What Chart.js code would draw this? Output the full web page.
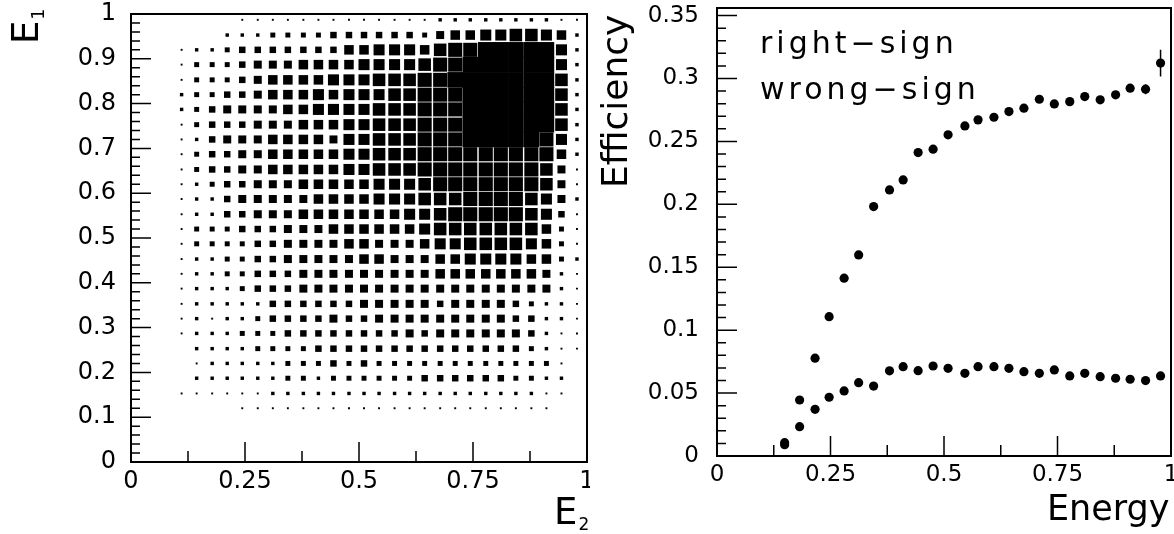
<!DOCTYPE html>
<html>
<head>
<meta charset="utf-8">
<script src="https://cdn.jsdelivr.net/npm/chart.js@4.4.0/dist/chart.umd.min.js"></script>
<style>
  html, body { margin: 0; padding: 0; background: #fff; }
  #wrap { position: relative; width: 1174px; height: 534px; overflow: hidden; }
  canvas { position: absolute; top: 0; }
  #left { left: 0; }
  #right { left: 590px; }
</style>
</head>
<body>
<div id="wrap">
  <canvas id="left" width="590" height="534"></canvas>
  <canvas id="right" width="584" height="534"></canvas>
</div>
<script>
// ---- left panel: E1 vs E2 box histogram ----
const xTicks = [0, 0.25, 0.5, 0.75, 1];
const xLabels = ['0', '0.25', '0.5', '0.75', '1'];
const e1Ticks = [0, 0.1, 0.2, 0.3, 0.4, 0.5, 0.6, 0.7, 0.8, 0.9, 1];
const e1Labels = ['0', '0.1', '0.2', '0.3', '0.4', '0.5', '0.6', '0.7', '0.8', '0.9', '1'];

// bin centres
const e2Centers = [0.111, 0.144, 0.178, 0.211, 0.244, 0.278, 0.311, 0.344, 0.378, 0.411, 0.444, 0.478, 0.511, 0.544,
                   0.578, 0.611, 0.644, 0.678, 0.711, 0.744, 0.778, 0.811, 0.844, 0.878, 0.911, 0.944, 0.978];
const e1Centers = [0.120, 0.153, 0.187, 0.220, 0.253, 0.287, 0.320, 0.353, 0.387, 0.420, 0.453, 0.487, 0.520, 0.553,
                   0.587, 0.620, 0.653, 0.687, 0.720, 0.753, 0.787, 0.820, 0.853, 0.887, 0.920, 0.953, 0.987];

// box size per cell, 0..10 (10 = full cell); first row is the lowest E1 bin
const boxLevels = [
  [0,0,0,0,1,1,1,1,1,1,1,1,1,1,1,1,1,1,1,1,1,1,1,1,1,0,0],
  [1,1,1,1,1,1,2,2,2,2,2,2,2,2,2,2,2,2,2,2,2,2,2,2,1,1,0],
  [0,2,2,2,2,2,2,3,3,2,3,3,3,3,3,3,4,4,4,4,4,4,3,3,2,2,0],
  [0,1,2,2,2,2,2,3,3,3,4,3,4,3,3,3,3,3,3,3,3,3,3,3,3,1,0],
  [0,2,2,2,2,3,3,3,3,4,4,4,4,4,4,4,4,4,4,4,4,4,4,3,2,1,1],
  [1,2,2,2,3,3,3,4,4,4,4,4,4,4,4,5,4,5,5,5,5,5,5,4,2,1,1],
  [1,2,1,2,2,3,4,4,4,4,5,4,4,5,5,5,5,5,5,5,5,5,4,4,2,2,1],
  [1,2,2,2,2,2,4,4,4,4,4,4,5,5,5,5,5,4,5,5,5,5,4,3,2,2,1],
  [1,2,2,2,3,4,4,4,5,5,5,5,5,5,5,5,5,5,5,5,5,5,5,5,5,2,1],
  [1,2,2,3,3,4,4,4,5,5,5,5,5,5,5,5,5,6,6,6,6,6,6,6,5,2,1],
  [1,2,2,3,3,4,4,5,5,5,5,5,6,6,5,5,5,6,6,7,7,7,7,6,6,3,2],
  [1,3,3,3,3,4,4,5,5,5,5,6,6,5,5,5,6,7,7,8,8,8,8,7,6,3,1],
  [1,3,3,3,4,4,4,5,5,5,6,6,6,6,6,6,7,8,8,8,8,8,8,8,6,3,1],
  [1,2,2,4,4,5,5,5,6,6,6,6,6,6,6,7,7,8,9,9,9,9,9,8,7,4,1],
  [1,2,2,4,5,5,5,5,5,6,6,6,6,7,7,7,8,8,8,9,9,9,9,8,7,5,2],
  [1,2,3,4,4,5,5,5,6,6,6,6,6,7,7,7,8,9,9,9,9,9,9,9,8,5,1],
  [1,3,4,4,5,5,6,6,6,6,6,7,7,8,8,8,9,9,9,9,9,9,9,9,8,5,1],
  [1,3,4,4,5,5,6,6,6,6,6,7,7,8,8,8,9,9,9,9,9,9,9,9,9,6,2],
  [1,2,4,5,5,5,6,6,6,6,5,7,7,8,8,8,9,9,9,10,10,10,10,10,9,7,2],
  [1,3,4,4,4,5,5,5,6,6,6,7,7,8,8,8,9,9,9,10,10,10,10,10,10,8,2],
  [2,3,4,5,5,5,5,6,6,7,7,7,7,8,8,8,9,9,9,10,10,10,10,10,10,8,2],
  [2,3,3,4,4,5,6,6,6,7,6,7,7,7,8,8,9,9,9,10,10,10,10,10,10,8,2],
  [1,3,3,3,4,5,6,6,6,6,7,7,7,8,8,8,9,9,10,10,10,10,10,10,10,8,2],
  [1,3,3,3,4,5,5,5,6,6,6,6,7,7,7,7,8,9,9,10,10,10,10,10,10,7,2],
  [1,2,2,3,4,4,4,4,4,4,4,6,6,7,7,7,6,8,9,9,10,10,10,10,10,7,2],
  [0,0,0,2,2,2,3,3,3,3,4,4,4,4,4,4,3,5,6,6,7,7,8,8,7,6,2],
  [0,0,0,0,1,1,1,1,1,1,1,1,1,1,1,1,1,2,2,2,2,2,2,2,2,1,1]
];

// ---- right panel: efficiency vs energy ----
const effTicks = [0, 0.05, 0.1, 0.15, 0.2, 0.25, 0.3, 0.35];
const effLabels = ['0', '0.05', '0.1', '0.15', '0.2', '0.25', '0.3', '0.35'];
const energy = [0.149, 0.182, 0.216, 0.247, 0.280, 0.312, 0.345, 0.380, 0.410, 0.443, 0.476, 0.509, 0.546,
                0.575, 0.610, 0.643, 0.676, 0.710, 0.743, 0.777, 0.810, 0.844, 0.878, 0.910, 0.944, 0.977];
const rightSign = [0.0106, 0.0445, 0.0777, 0.1107, 0.1413, 0.1598, 0.1982, 0.2114, 0.2194, 0.2411, 0.2438, 0.2552, 0.2623,
                   0.2671, 0.2692, 0.2737, 0.2764, 0.2835, 0.2798, 0.2816, 0.2856, 0.2830, 0.2870, 0.2923, 0.2915, 0.3122];
const rightSignErr = [0.001, 0.002, 0.002, 0.002, 0.003, 0.003, 0.003, 0.003, 0.003, 0.003, 0.003, 0.003, 0.003,
                      0.003, 0.003, 0.003, 0.003, 0.003, 0.003, 0.003, 0.003, 0.003, 0.003, 0.003, 0.004, 0.0106];
const wrongSign = [0.0090, 0.0233, 0.0371, 0.0467, 0.0517, 0.0583, 0.0556, 0.0677, 0.0710, 0.0678, 0.0715, 0.0697, 0.0657,
                   0.0710, 0.0710, 0.0697, 0.0670, 0.0657, 0.0684, 0.0636, 0.0657, 0.0630, 0.0618, 0.0610, 0.0599, 0.0636];

Chart.defaults.font.family = '"DejaVu Sans", sans-serif';
Chart.defaults.color = '#000';

function fixedTicks(vals) {
  return function (s) { s.ticks = vals.map(v => ({ value: v })); };
}

// frame + inward ticks + texts, drawn through the chart's scales
function makeFrame(cfg) {
  return {
    id: 'frame',
    beforeDatasetsDraw(chart) {
      if (cfg.before) cfg.before(chart);
    },
    afterDatasetsDraw(chart) {
      const ctx = chart.ctx, a = chart.chartArea;
      const sx = chart.scales.x, sy = chart.scales.y;
      ctx.save();
      ctx.strokeStyle = '#000';
      ctx.lineWidth = 2;
      ctx.strokeRect(a.left, a.top, a.right - a.left, a.bottom - a.top);
      ctx.lineWidth = 1.5;
      ctx.beginPath();
      for (let i = 0; i * cfg.xMinor <= sx.max + 1e-9; i++) {
        const v = i * cfg.xMinor;
        const p = sx.getPixelForValue(v);
        const len = Math.abs(v / cfg.xMajor - Math.round(v / cfg.xMajor)) < 1e-6 ? 20 : 11;
        ctx.moveTo(p, a.bottom);
        ctx.lineTo(p, a.bottom - len);
      }
      for (let i = 0; i * cfg.yMinor <= sy.max + 1e-9; i++) {
        const v = i * cfg.yMinor;
        const p = sy.getPixelForValue(v);
        const len = Math.abs(v / cfg.yMajor - Math.round(v / cfg.yMajor)) < 1e-6 ? 20 : 9;
        ctx.moveTo(a.left, p);
        ctx.lineTo(a.left + len, p);
      }
      ctx.stroke();
      ctx.fillStyle = '#000';
      cfg.texts(ctx);
      ctx.restore();
    }
  };
}

function scaleOpts(kind, vals, labels, size, fontSize, pad, min, max) {
  return {
    type: 'linear', min: min, max: max,
    afterBuildTicks: fixedTicks(vals),
    afterFit: s => {
      if (kind === 'x') s.height = size; else s.width = size;
      // keep the plot area where the picture has it
      s.paddingLeft = s.paddingRight = s.paddingTop = s.paddingBottom = 0;
    },
    ticks: { callback: (v, i) => labels[i], font: { size: fontSize }, padding: pad, autoSkip: false, maxRotation: 0 },
    grid: { display: false, drawTicks: false },
    border: { display: false }
  };
}

// left chart
const boxData = [];
boxLevels.forEach((row, j) => row.forEach((v, k) => {
  if (v > 0) boxData.push({ x: e2Centers[k], y: e1Centers[j], v: v });
}));

new Chart(document.getElementById('left'), {
  type: 'scatter',
  data: {
    datasets: [{
      data: boxData,
      pointStyle: 'rect',
      backgroundColor: '#000',
      borderWidth: 0,
      pointRadius: c => {
        if (!c.raw) return 0;
        const s = c.chart.scales.x;
        const cell = s.getPixelForValue(1 / 30) - s.getPixelForValue(0);
        return (c.raw.v / 10 * cell + 0.4) / Math.SQRT2;
      }
    }]
  },
  options: {
    responsive: false, animation: false, devicePixelRatio: 1, events: [],
    layout: { padding: { top: 14, right: 3, left: 0, bottom: 0 }, autoPadding: false },
    plugins: { legend: { display: false }, tooltip: { enabled: false } },
    scales: {
      x: scaleOpts('x', xTicks, xLabels, 72, 24, 5, 0, 1),
      y: scaleOpts('y', e1Ticks, e1Labels, 131, 24, 15, 0, 1)
    }
  },
  plugins: [makeFrame({
    xMajor: 0.25, xMinor: 0.125, yMajor: 0.1, yMinor: 0.02,
    texts(ctx) {
      ctx.textAlign = 'left';
      ctx.textBaseline = 'alphabetic';
      ctx.font = '37px "DejaVu Sans"';
      ctx.fillText('E', 554, 524);
      const w = ctx.measureText('E').width;
      ctx.font = '17px "DejaVu Sans"';
      ctx.fillText('2', 554 + w + 1, 530);
      ctx.save();
      ctx.translate(38, 44);
      ctx.rotate(-Math.PI / 2);
      ctx.font = '37px "DejaVu Sans"';
      ctx.fillText('E', 0, 0);
      const w1 = ctx.measureText('E').width;
      ctx.font = '17px "DejaVu Sans"';
      ctx.fillText('1', w1 + 1, 6);
      ctx.restore();
    }
  })]
});

// right chart
new Chart(document.getElementById('right'), {
  type: 'scatter',
  data: {
    datasets: [
      { label: 'right-sign', data: energy.map((x, i) => ({ x: x, y: rightSign[i] })),
        pointStyle: 'circle', pointRadius: 4.6, backgroundColor: '#000', borderWidth: 0 },
      { label: 'wrong-sign', data: energy.map((x, i) => ({ x: x, y: wrongSign[i] })),
        pointStyle: 'circle', pointRadius: 4.6, backgroundColor: '#000', borderWidth: 0 }
    ]
  },
  options: {
    responsive: false, animation: false, devicePixelRatio: 1, events: [],
    layout: { padding: { top: 8, right: 3, left: 0, bottom: 0 }, autoPadding: false },
    plugins: { legend: { display: false }, tooltip: { enabled: false } },
    scales: {
      x: scaleOpts('x', xTicks, xLabels, 78, 23, 5, 0, 1),
      y: scaleOpts('y', effTicks, effLabels, 127, 23, 18, 0, 0.356)
    }
  },
  plugins: [makeFrame({
    xMajor: 0.25, xMinor: 0.125, yMajor: 0.05, yMinor: 0.01,
    before(chart) {
      const ctx = chart.ctx, sx = chart.scales.x, sy = chart.scales.y;
      ctx.save();
      ctx.strokeStyle = '#000';
      ctx.lineWidth = 1.5;
      ctx.beginPath();
      energy.forEach((x, i) => {
        const px = sx.getPixelForValue(x);
        ctx.moveTo(px, sy.getPixelForValue(rightSign[i] - rightSignErr[i]));
        ctx.lineTo(px, sy.getPixelForValue(rightSign[i] + rightSignErr[i]));
      });
      ctx.stroke();
      ctx.restore();
    },
    texts(ctx) {
      ctx.textAlign = 'left';
      ctx.textBaseline = 'alphabetic';
      ctx.font = '30px "DejaVu Sans"';
      ctx.letterSpacing = '4px';
      ctx.fillText('right\u2212sign', 170, 53);
      ctx.fillText('wrong\u2212sign', 170, 99);
      ctx.letterSpacing = '0px';
      ctx.font = '35px "DejaVu Sans"';
      ctx.fillText('Energy', 457, 520);
      ctx.save();
      ctx.translate(37, 188);
      ctx.rotate(-Math.PI / 2);
      ctx.font = '36px "DejaVu Sans"';
      ctx.fillText('Efficiency', 0, 0);
      ctx.restore();
    }
  })]
});
</script>
</body>
</html>
